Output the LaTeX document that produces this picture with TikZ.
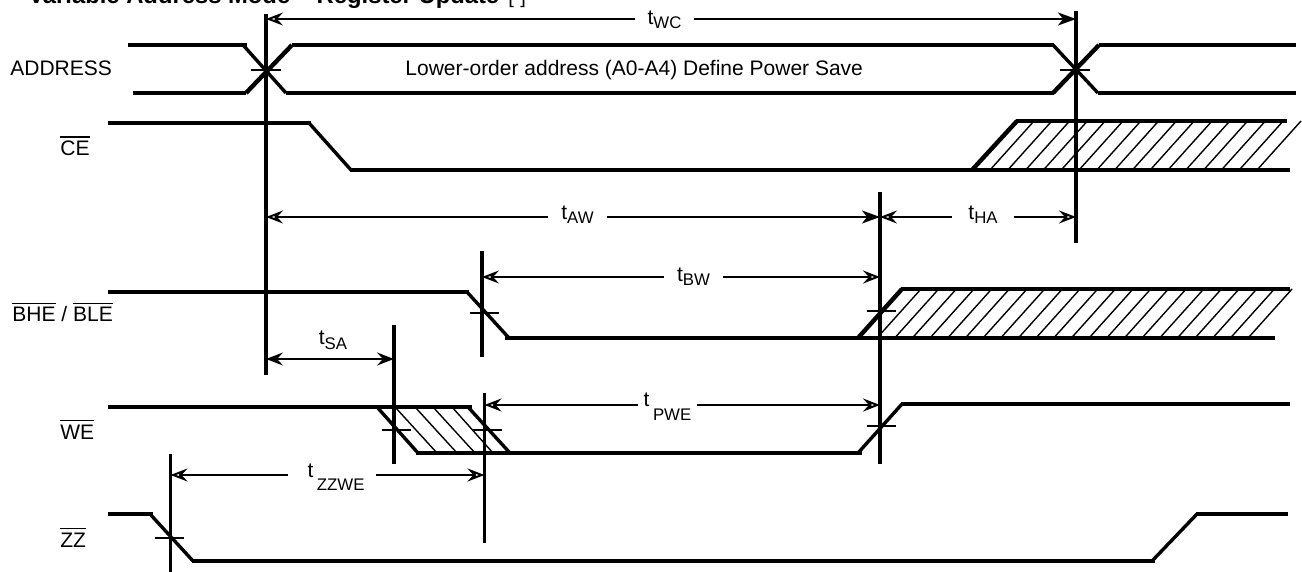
\documentclass[tikz,border=0pt]{standalone}
\usepackage{fontspec}
\setmainfont{Liberation Sans}
\usetikzlibrary{arrows.meta}
\newcommand\ovl[1]{\leavevmode\vbox{\hrule height .6pt \kern 1.9pt \hbox{#1}}}
\newcommand\tsub[2]{t\raisebox{-#1}{\fontsize{8.4}{9}\selectfont #2}}
\tikzset{
  sig/.style={line width=2.1pt, line cap=butt},
  edgeln/.style={line width=1.7pt, line cap=butt},
  edgethk/.style={line width=2.2pt, line cap=butt},
  mark line/.style={line width=1.6pt},
  tick line/.style={line width=1pt},
  hatch/.style={line width=.7pt},
  dimopen/.style={line width=1pt, -{Stealth[open, length=8.5pt, width=6.5pt, inset=3pt, line width=1pt]}},
  dimsolid/.style={line width=1pt, -{Stealth[length=9pt, width=6.5pt, inset=2.5pt]}},
  siglabel/.style={anchor=base west, inner sep=0pt, font=\fontsize{10.5}{12}\selectfont},
  tlabel/.style 2 args={inner sep=0pt, minimum width=#1, text height=8pt+#2, text depth=8pt, align=center, font=\fontsize{10.5}{12}\selectfont}
}
\begin{document}
\begin{tikzpicture}[x=.5pt,y=-.5pt]
\useasboundingbox (0,0) rectangle (1302,572);
% title
\node[anchor=base west, inner sep=0pt] (title) at (28,4)
  {\fontsize{11.9}{14}\selectfont\bfseries Variable Address Mode -- Register Update\hspace{4.5pt}\mdseries\fontsize{10}{12}\selectfont [-]};
% vertical reference lines
\coordinate (vAt) at (266,14);   \coordinate (vAb) at (266,375);
\coordinate (vBt) at (1076,11);  \coordinate (vBb) at (1076,243);
\coordinate (vCt) at (880,192);  \coordinate (vCb) at (880,464);
\coordinate (vDt) at (482,251);  \coordinate (vDb) at (482,357);
\coordinate (vEt) at (394,325);  \coordinate (vEb) at (394,464);
\coordinate (vFt) at (484.5,393);\coordinate (vFb) at (484.5,543);
\coordinate (vGt) at (170.5,454);\coordinate (vGb) at (170.5,572);
\foreach \n in {A,B,C,D,E,F,G} \draw[mark line] (v\n t) -- (v\n b);
% ticks
\draw[tick line] (251,70) -- (281,70);
\draw[tick line] (1060,70) -- (1090,70);
\draw[tick line] (470,313) -- (499,313);
\draw[tick line] (867,311) -- (896,311);
\draw[tick line] (382,430) -- (411,430);
\draw[tick line] (473,430) -- (502,430);
\draw[tick line] (867,426) -- (896,426);
\draw[tick line] (155,538) -- (184,538);
% ADDRESS
\draw[sig] (128,45) -- (247,45);
\draw[sig] (133,93) -- (246,93);
\draw[edgeln] (243,45) -- (286,93);
\draw[edgethk] (246,93) -- (292,45);
\draw[sig] (292,45) -- (1054,45);
\draw[sig] (286,93) -- (1054,93);
\draw[edgeln] (1053,45) -- (1098,93);
\draw[edgethk] (1053,93) -- (1099,45);
\draw[sig] (1099,45) -- (1296,45);
\draw[sig] (1098,93) -- (1296,93);
% CE
\draw[sig] (108,123) -- (311,123);
\draw[edgeln] (309,123) -- (351,170);
\draw[sig] (350,170) -- (1290,170);
\draw[edgethk] (972,170) -- (1017,121);
\draw[sig] (1016,121) -- (1287,121);
\foreach \k in {0,...,15} \draw[hatch] ({990+17.8*\k},170) -- ++(44,-49);
% BHE/BLE
\draw[sig] (108,292) -- (469,292);
\draw[edgeln] (467,292) -- (509,338);
\draw[sig] (505,338) -- (1275,338);
\draw[edgethk] (858,338) -- (902,289);
\draw[sig] (901,289) -- (1290,289);
\foreach \k in {0,...,21} \draw[hatch] ({877+17.67*\k},338) -- ++(44,-49);
% WE
\draw[sig] (108,407) -- (472,407);
\draw[edgeln] (377,407) -- (418,453);
\draw[edgeln] (468,407) -- (510,453);
\draw[sig] (416,453) -- (862,453);
\draw[edgeln] (858,453) -- (902,404);
\draw[sig] (901,404) -- (1290,404);
\draw[hatch] (395,407) -- (437,453);
\draw[hatch] (415,407) -- (457,453);
\draw[hatch] (433,407) -- (475,453);
\draw[hatch] (452,407) -- (493,453);
% ZZ
\draw[sig] (108,514) -- (153,514);
\draw[edgeln] (150,514) -- (193,561);
\draw[sig] (192,561) -- (1155,561);
\draw[edgeln] (1152,561) -- (1197,514);
\draw[sig] (1196,514) -- (1288,514);
% signal labels
\node[siglabel] (lAddr) at (10,76) {ADDRESS};
\node[siglabel] (lCE) at (60,156) {\ovl{CE}};
\node[siglabel] (lBHE) at (12,322) {\ovl{BHE} / \ovl{BLE}};
\node[siglabel] (lWE) at (60,439) {\ovl{WE}};
\node[siglabel] (lZZ) at (60,547) {\ovl{ZZ}};
\node[siglabel] (lNote) at (405,76) {Lower-order address (A0-A4) Define Power Save};
% timing labels
\node[tlabel={29.5pt}{6pt}] (tWC) at (664.5,19) {\tsub{2pt}{WC}};
\node[tlabel={29.5pt}{3pt}] (tAW) at (577.5,217) {\tsub{2pt}{AW}};
\node[tlabel={31pt}{3pt}] (tHA) at (983,217) {\tsub{2pt}{HA}};
\node[tlabel={29.5pt}{5pt}] (tBW) at (693.5,277) {\tsub{2pt}{BW}};
\node[tlabel={29.5pt}{2pt}] (tPWE) at (667.5,405) {t\,\raisebox{-7pt}{\fontsize{8.4}{9}\selectfont PWE}};
\node[tlabel={44pt}{2pt}] (tZZWE) at (332,475) {\hspace*{4pt}t\,\raisebox{-6.5pt}{\fontsize{8.4}{9}\selectfont ZZWE}};
\node[anchor=base, inner sep=0pt, font=\fontsize{10.5}{12}\selectfont] (tSA) at (333,345) {\tsub{2pt}{SA}};
% dimension arrows
\coordinate (aWCl) at (266,19);  \coordinate (aWCr) at (1076,19);
\draw[dimopen] (tWC.west) -- (aWCl);
\draw[dimsolid] (tWC.east) -- (aWCr);
\coordinate (aAWl) at (266,217); \coordinate (aAWr) at (880,217);
\draw[dimopen] (tAW.west) -- (aAWl);
\draw[dimsolid] (tAW.east) -- (aAWr);
\coordinate (aHAr) at (1076,217);
\draw[dimopen] (tHA.west) -- (aAWr);
\draw[dimopen] (tHA.east) -- (aHAr);
\coordinate (aBWl) at (482,277); \coordinate (aBWr) at (880,277);
\draw[dimopen] (tBW.west) -- (aBWl);
\draw[dimopen] (tBW.east) -- (aBWr);
\coordinate (aSAl) at (266,359); \coordinate (aSAr) at (394,359);
\draw[dimopen] (aSAl) -- (aSAr);
\draw[dimopen] (aSAr) -- (aSAl);
\coordinate (aPWl) at (484.5,405); \coordinate (aPWr) at (880,405);
\draw[dimopen] (tPWE.west) -- (aPWl);
\draw[dimopen] (tPWE.east) -- (aPWr);
\coordinate (aZZl) at (170.5,475); \coordinate (aZZr) at (484.5,475);
\draw[dimopen] (tZZWE.west) -- (aZZl);
\draw[dimopen] (tZZWE.east) -- (aZZr);
\end{tikzpicture}
\end{document}
